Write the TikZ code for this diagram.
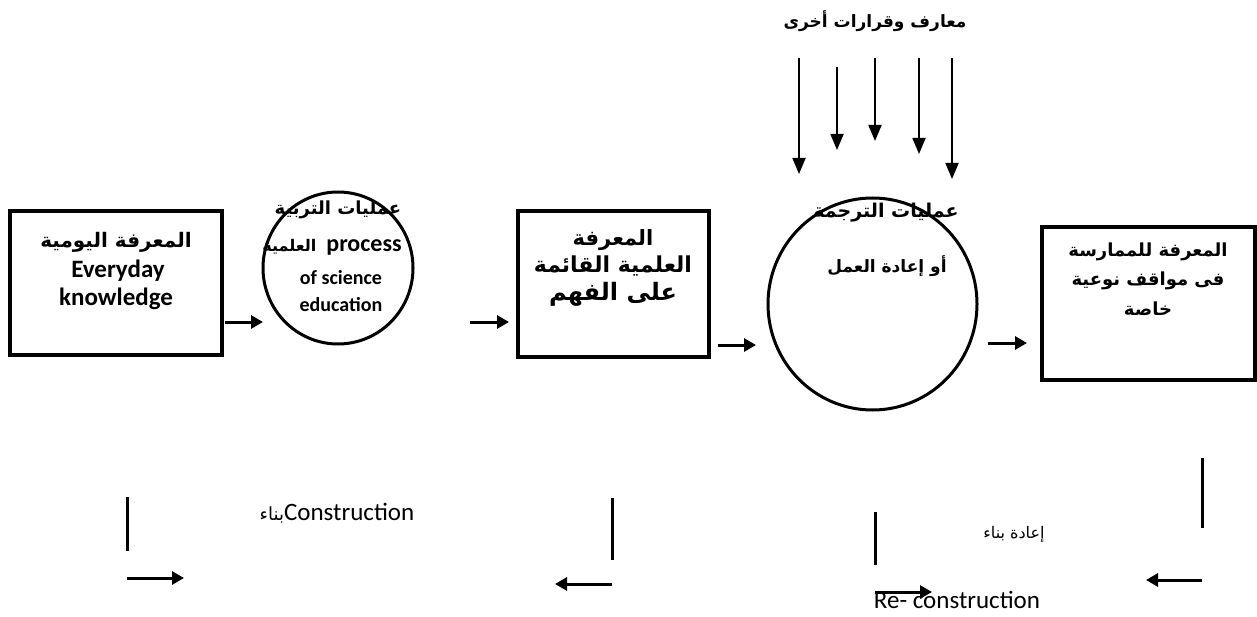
\documentclass[tikz,border=0pt]{standalone}
\usepackage{fontspec}
\usetikzlibrary{arrows.meta,shapes.geometric}
\TeXXeTstate=1
\newfontfamily\arabicfont[Script=Arabic]{DejaVu Sans}
\newfontfamily\latinfont{Carlito}
\newcommand{\ar}[1]{{\arabicfont\beginR #1\endR}}
\newcommand{\fs}[1]{\fontsize{#1}{#1}\selectfont}

\tikzset{
  box/.style={draw, line width=3.2pt, rectangle, inner sep=0pt},
  ring/.style={draw, line width=3pt, ellipse, inner sep=0pt},
  flow/.style={line width=3pt, -{Triangle[length=12pt,width=13pt]}},
  feed/.style={line width=1.8pt, -{Triangle[length=16pt,width=13pt]}},
  bar/.style={line width=3pt},
  artext/.style={font=\arabicfont\bfseries\fs{19}, inner sep=0pt},
  latext/.style={font=\latinfont\bfseries\fs{25}, inner sep=0pt},
  plain/.style={font=\latinfont\fs{25}, inner sep=0pt},
  plainar/.style={font=\arabicfont\fs{16}, inner sep=0pt},
}

\begin{document}
\begin{tikzpicture}[x=1pt,y=-1pt]
\useasboundingbox (0,0) rectangle (1257,617);

% boxes and process circles
\node[box, minimum width=212pt, minimum height=144pt] (b1) at (116,283) {};
\node[ring, minimum width=150pt, minimum height=152pt] (c1) at (338,268) {};
\node[box, minimum width=191pt, minimum height=146pt] (b2) at (613.5,284) {};
\node[ring, minimum width=209pt, minimum height=212pt] (c2) at (872.5,304) {};
\node[box, minimum width=213pt, minimum height=153pt] (b3) at (1148.5,303.5) {};

% box 1
\node[artext, font=\arabicfont\bfseries\fs{20}] (t1a) at (116,242) {\ar{المعرفة اليومية}};
\node[latext] (t1b) at (118,271) {Everyday};
\node[latext] (t1c) at (116,299) {knowledge};

% circle 1
\node[artext, font=\arabicfont\bfseries\fs{18}] (t2a) at (338,210) {\ar{عمليات التربية}};
\node[inner sep=0pt] (t2b) at (332,247) {\ar{\bfseries\fs{16}العلمية}\hspace{10pt}{\latinfont\bfseries\fs{24}process}};
\node[latext, font=\latinfont\bfseries\fs{20}] (t2c) at (341,278) {of science};
\node[latext, font=\latinfont\bfseries\fs{20}] (t2d) at (341,305) {education};

% box 2
\node[artext, font=\arabicfont\bfseries\fs{21}] (t3a) at (613,240) {\ar{المعرفة}};
\node[artext, font=\arabicfont\bfseries\fs{22}] (t3b) at (613,266) {\ar{العلمية القائمة}};
\node[artext, font=\arabicfont\bfseries\fs{24}] (t3c) at (613,294) {\ar{على الفهم}};

% circle 2
\node[artext, font=\arabicfont\bfseries\fs{19}] (t4a) at (886,213) {\ar{عمليات الترجمة}};
\node[artext, font=\arabicfont\bfseries\fs{17}] (t4b) at (887,266) {\ar{أو إعادة العمل}};

% box 3
\node[artext, font=\arabicfont\bfseries\fs{18}] (t5a) at (1148,252) {\ar{المعرفة للممارسة}};
\node[artext, font=\arabicfont\bfseries\fs{18}] (t5b) at (1148,281) {\ar{فى مواقف نوعية}};
\node[artext, font=\arabicfont\bfseries\fs{18}] (t5c) at (1148,309) {\ar{خاصة}};

% title above the incoming arrows
\node[artext, font=\arabicfont\bfseries\fs{17}] (ttl) at (875,21) {\ar{معارف وقرارات أخرى}};

% main flow
\coordinate (a1s) at (225,322); \coordinate (a1e) at (263,322);
\coordinate (a2s) at (470,322); \coordinate (a2e) at (509,322);
\coordinate (a3s) at (718,345); \coordinate (a3e) at (756,345);
\coordinate (a4s) at (988,343); \coordinate (a4e) at (1027,343);
\draw[flow] (a1s) -- (a1e);
\draw[flow] (a2s) -- (a2e);
\draw[flow] (a3s) -- (a3e);
\draw[flow] (a4s) -- (a4e);

% incoming knowledge arrows
\foreach \x/\ya/\yb [count=\i] in {799/58/174, 837/67/150, 875/58/141, 919/58/154, 952/58/179}{
  \coordinate (f\i s) at (\x,\ya);
  \coordinate (f\i e) at (\x,\yb);
  \draw[feed] (f\i s) -- (f\i e);
}

% construction loop
\coordinate (l1t) at (127,497); \coordinate (l1b) at (127,551);
\coordinate (l1s) at (127,578); \coordinate (l1e) at (184,578);
\draw[bar] (l1t) -- (l1b);
\draw[flow] (l1s) -- (l1e);
\node[plain] (cons) at (337,513) {\ar{\fs{18}بناء}Construction};
\coordinate (l2t) at (612,498); \coordinate (l2b) at (612,560);
\coordinate (l2s) at (612,584); \coordinate (l2e) at (555,584);
\draw[bar] (l2t) -- (l2b);
\draw[flow] (l2s) -- (l2e);

% re-construction loop
\coordinate (l3t) at (875,512); \coordinate (l3b) at (875,565);
\coordinate (l3s) at (875,592); \coordinate (l3e) at (932,592);
\draw[bar] (l3t) -- (l3b);
\draw[flow] (l3s) -- (l3e);
\node[plainar] (rcar) at (1014,534) {\ar{إعادة بناء}};
\node[plain] (rcon) at (957,600) {Re- construction};
\coordinate (l4t) at (1202,458); \coordinate (l4b) at (1202,528);
\coordinate (l4s) at (1202,580); \coordinate (l4e) at (1146,580);
\draw[bar] (l4t) -- (l4b);
\draw[flow] (l4s) -- (l4e);
\end{tikzpicture}
\end{document}
